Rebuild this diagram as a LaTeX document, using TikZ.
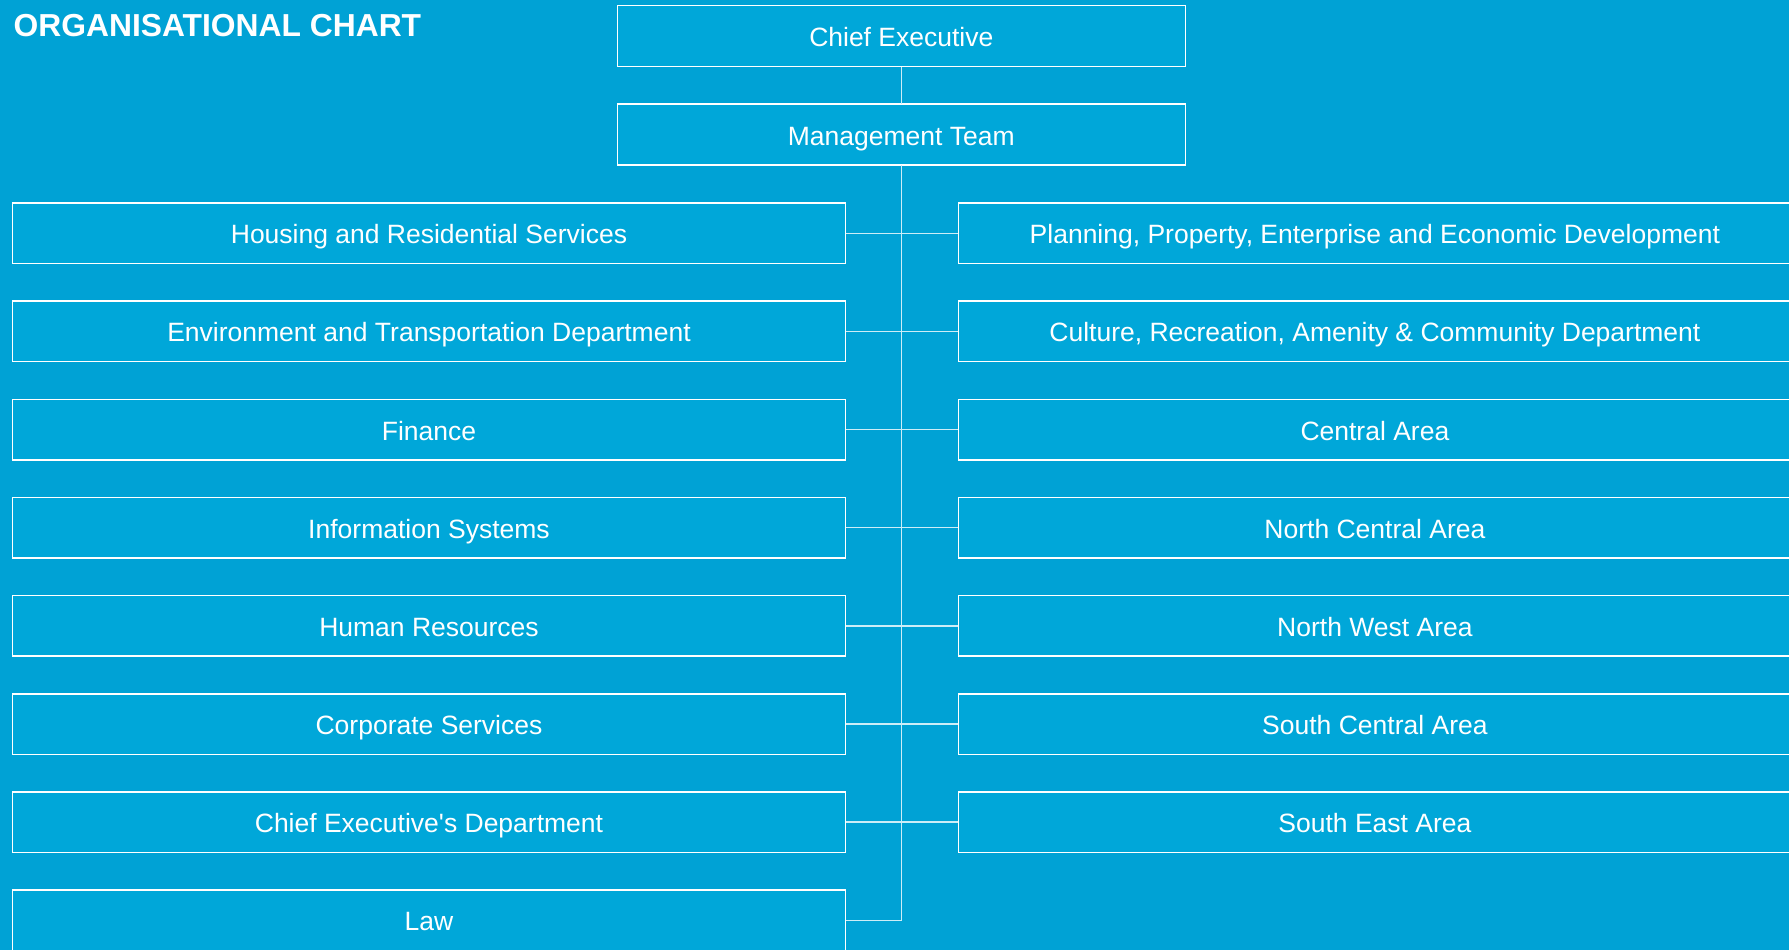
\documentclass[tikz,border=0pt]{standalone}
\usepackage{fontspec}
\setmainfont{Liberation Sans}[Ligatures=TeXOff]
\definecolor{bgc}{RGB}{0,162,213}
\definecolor{boxc}{RGB}{0,167,217}
\definecolor{connc}{RGB}{205,237,247}
\begin{document}
\begin{tikzpicture}[x=1pt,y=-1pt,
  orgbox/.style={draw=white, line width=1.5pt, fill=boxc, inner sep=0pt, outer sep=0pt,
    minimum height=60.5pt, text=white, font=\fontsize{26.5}{30}\selectfont,
    text height=21pt, text depth=0pt, anchor=north west},
  wide/.style={orgbox, minimum width=833pt},
  top/.style={orgbox, minimum width=568pt},
  conn/.style={draw=connc, line width=1.5pt}]
\fill[bgc] (0,0) rectangle (1789,950);
\useasboundingbox (0,0) rectangle (1789,950);

\node[anchor=base west, text=white, font=\bfseries\fontsize{31.8}{36}\selectfont, inner sep=0pt] (title) at (13.5,36.5) {ORGANISATIONAL CHART};

\node[top, minimum height=61pt] (ce) at (617.3,5.7) {Chief Executive};
\node[top, minimum height=61pt] (mt) at (617.3,104) {Management Team};

\foreach \i/\lt/\rt in {
  1/{Housing and Residential Services}/{Planning, Property, Enterprise and Economic Development},
  2/{Environment and Transportation Department}/{Culture, Recreation, Amenity \& Community Department},
  3/{Finance}/{Central Area},
  4/{Information Systems}/{North Central Area},
  5/{Human Resources}/{North West Area},
  6/{Corporate Services}/{South Central Area},
  7/{Chief Executive's Department}/{South East Area}} {
  \node[wide] (L\i) at (12.5,{203.1+98.13*(\i-1)}) {\lt};
  \node[wide] (R\i) at (958.4,{203.1+98.13*(\i-1)}) {\rt};
}
\node[wide] (law) at (12.5,890) {Law};

\draw[conn] (ce.south) -- (mt.north);
\draw[conn] (mt.south) -- (mt.south |- law.east) -- (law.east);
\foreach \i in {1,...,7} {
  \draw[conn] (L\i.east) -- (R\i.west);
}
\end{tikzpicture}
\end{document}
